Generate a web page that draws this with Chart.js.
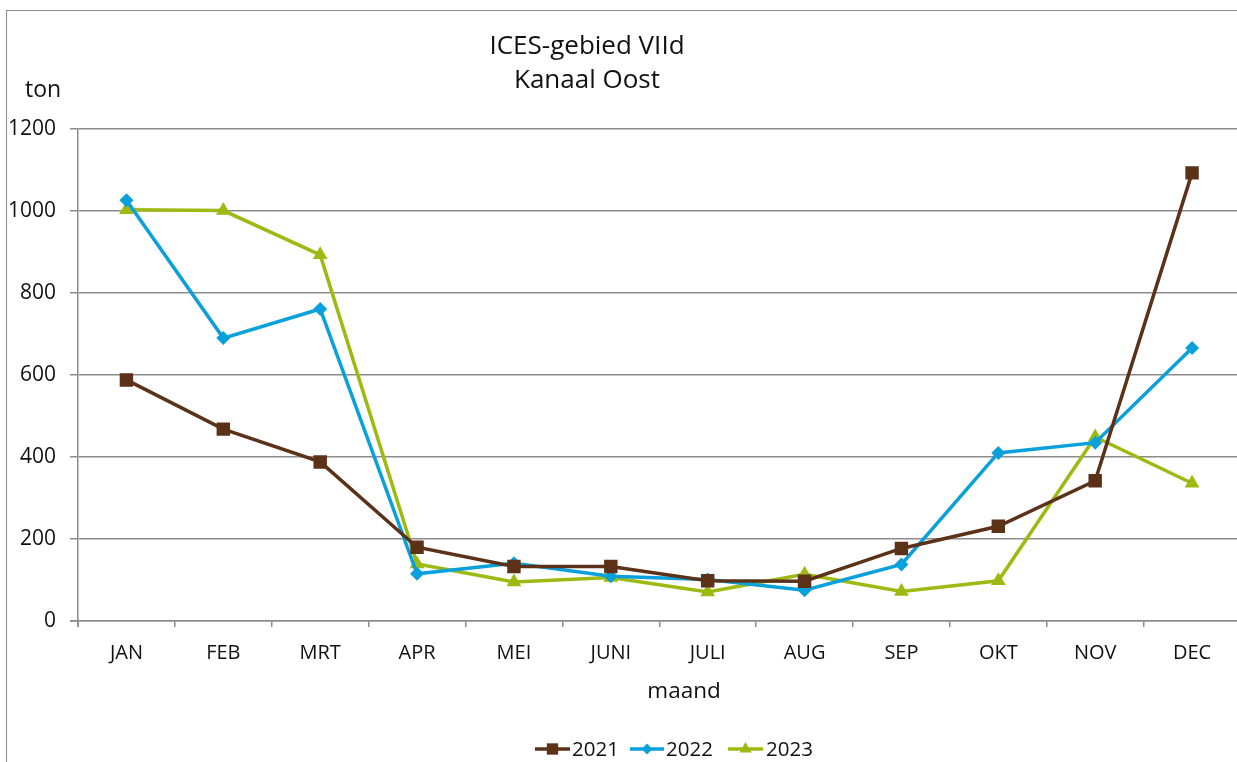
<!DOCTYPE html>
<html>
<head>
<meta charset="utf-8">
<script src="https://cdn.jsdelivr.net/npm/chart.js@4.4.1/dist/chart.umd.min.js"></script>
<style>
  html, body { margin: 0; padding: 0; background: #fff; overflow: hidden; width: 1237px; height: 762px; }
  #wrap { position: absolute; left: 0; top: 0; width: 1250px; height: 762px; }
  #frame { position: absolute; left: 6px; top: 10px; width: 1300px; height: 800px; border: 1.5px solid #8c8c8c; box-sizing: border-box; }
  canvas { position: absolute; left: 0; top: 0; }
</style>
</head>
<body>
<div id="wrap">
  <div id="frame"></div>
  <canvas id="c" width="1250" height="762"></canvas>
</div>
<script>
const months = ['JAN','FEB','MRT','APR','MEI','JUNI','JULI','AUG','SEP','OKT','NOV','DEC'];
const v2021 = [588, 468, 388, 180, 133, 133, 98, 97, 177, 231, 342, 1093];
const v2022 = [1026, 690, 761, 115, 141, 109, 101, 75, 138, 410, 435, 666];
const v2023 = [1003, 1001, 893, 139, 95, 106, 71, 114, 72, 98, 449, 336];
const seriesNames = ['2021', '2022', '2023'];
const titleLines = ['ICES-gebied VIId', 'Kanaal Oost'];
const yAxisTitle = 'ton';
const xAxisTitle = 'maand';

const FONT = "'Open Sans', 'Noto Sans', sans-serif";
const COLORS = ['#5b3118', '#0aa0dc', '#9cba12'];
const STYLES = ['rect', 'rectRot', 'triangle'];
const RADII = [9.5, 7, 8.5];

const datasets = [v2021, v2022, v2023].map((d, i) => ({
  label: seriesNames[i],
  data: d,
  borderColor: COLORS[i],
  backgroundColor: COLORS[i],
  borderWidth: 3.5,
  pointStyle: STYLES[i],
  pointRadius: RADII[i],
  pointBorderWidth: 0,
  pointBackgroundColor: COLORS[i],
  tension: 0,
  fill: false
}));

const textPlugin = {
  id: 'texts',
  beforeDatasetsDraw(chart) {
    const ctx = chart.ctx, a = chart.chartArea;
    ctx.save();
    ctx.strokeStyle = '#8c8c8c';
    ctx.lineWidth = 1.5;
    ctx.beginPath();
    ctx.moveTo(a.left - 8, a.bottom);
    ctx.lineTo(a.left, a.bottom);
    ctx.moveTo(a.left, a.bottom);
    ctx.lineTo(a.left, a.bottom + 6);
    ctx.stroke();
    ctx.restore();
  },
  afterDraw(chart) {
    const ctx = chart.ctx;
    ctx.save();
    ctx.fillStyle = '#111';
    ctx.textAlign = 'center';
    ctx.textBaseline = 'middle';
    ctx.font = `26px ${FONT}`;
    ctx.fillText(titleLines[0], 587, 47);
    ctx.fillText(titleLines[1], 587, 81);
    ctx.font = `23px ${FONT}`;
    ctx.fillText(yAxisTitle, 43, 90);
    ctx.font = `22.5px ${FONT}`;
    ctx.fillText(xAxisTitle, 684, 692);
    const items = [
      {x1: 535, x2: 570, tx: 572},
      {x1: 630, x2: 664, tx: 666},
      {x1: 728, x2: 763, tx: 766}
    ];
    const ly = 749;
    ctx.font = `20.5px ${FONT}`;
    ctx.textAlign = 'left';
    items.forEach((it, i) => {
      ctx.strokeStyle = COLORS[i];
      ctx.lineWidth = 3.5;
      ctx.beginPath();
      ctx.moveTo(it.x1, ly);
      ctx.lineTo(it.x2, ly);
      ctx.stroke();
      ctx.fillStyle = COLORS[i];
      Chart.helpers.drawPoint(ctx, {pointStyle: STYLES[i], radius: RADII[i] - 1.5, borderWidth: 0}, (it.x1 + it.x2) / 2, ly);
      ctx.fillStyle = '#111';
      ctx.fillText(seriesNames[i], it.tx, ly + 1);
    });
    ctx.restore();
  }
};

new Chart(document.getElementById('c'), {
  type: 'line',
  data: { labels: months, datasets },
  options: {
    responsive: false,
    animation: false,
    layout: { padding: { top: 129, right: 8, bottom: 0, left: 0 } },
    plugins: {
      legend: { display: false },
      title: { display: false },
      tooltip: { enabled: false }
    },
    scales: {
      x: {
        offset: true,
        grid: {
          offset: true,
          drawOnChartArea: false,
          color: '#8c8c8c',
          lineWidth: 1.5,
          tickLength: 6
        },
        border: { color: '#8c8c8c', width: 1.5 },
        ticks: { color: '#111', font: { family: FONT, size: 20 }, padding: 14, maxRotation: 0, autoSkip: false },
        afterFit(scale) { scale.height = 141; }
      },
      y: {
        min: 0,
        max: 1200,
        ticks: {
          stepSize: 200, color: '#111', font: { family: FONT, size: 21 }, padding: 14,
          callback: (v) => String(v)
        },
        grid: { color: '#8c8c8c', lineWidth: 1.5, tickLength: 8 },
        border: { color: '#8c8c8c', width: 1.5 },
        afterFit(scale) { scale.width = 78; }
      }
    }
  },
  plugins: [textPlugin]
});
</script>
</body>
</html>
